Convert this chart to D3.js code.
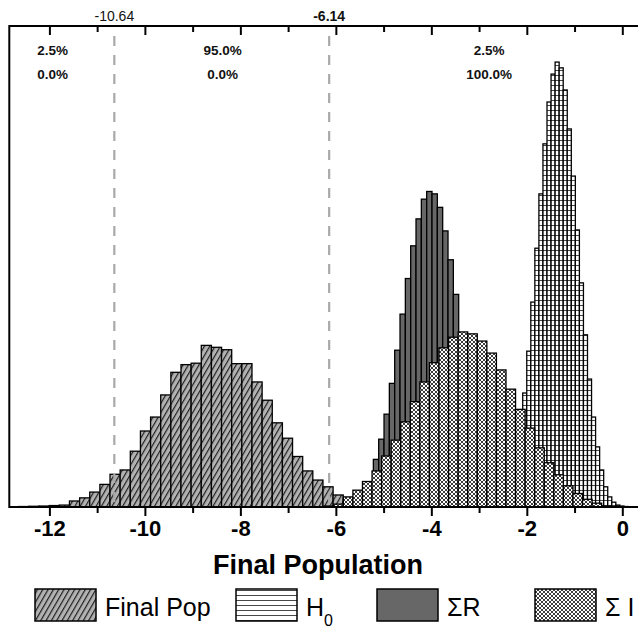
<!DOCTYPE html>
<html><head><meta charset="utf-8">
<script src="https://cdn.jsdelivr.net/npm/d3@7"></script>
<style>body{margin:0;background:#fff} svg{display:block;font-family:Arial,"Liberation Sans",sans-serif}</style>
</head><body>
<svg id="chart" width="638" height="631"></svg>
<script>
// Histogram bins: left edge of the first bin, bin width, then bin heights (% of runs)
const finalPopStart = -12.642, finalPopWidth = 0.2124;
const finalPopValues = [0.1, 0.15, 0.2, 0.3, 0.4, 1.25, 1.9, 3.1, 4.7, 6.8, 7.7, 11.6, 15.8, 18.7, 23.3, 28.0,
  29.6, 29.9, 33.6, 33.2, 32.7, 29.8, 29.8, 26.0, 22.2, 17.5, 14.3, 10.5, 7.5, 5.6, 4.2, 2.5, 1.7, 1.0, 0.6, 0.3, 0.2, 0.1];

const sumRStart = -5.773, sumRWidth = 0.1117;
const sumRValues = [0.4, 0.8, 1.5, 2.7, 5.0, 9.9, 14.1, 19.3, 25.7, 32.6, 40.1, 47.5, 54.3, 59.9, 64.0, 65.6, 65.1,
  62.3, 57.4, 51.4, 44.2, 34.7, 26.4, 20.2, 15.0, 10.8, 7.9, 5.6, 4.0, 2.7, 1.9, 1.2, 0.8, 0.5, 0.3];

const sumIStart = -6.244, sumIWidth = 0.2004;
const sumIValues = [0.2, 0.6, 2.1, 3.5, 5.3, 7.5, 10.6, 13.9, 17.7, 21.9, 26.0, 30.0, 33.1, 35.3, 36.4, 36.0, 34.5,
  32.0, 28.5, 24.5, 20.3, 16.4, 12.3, 9.2, 6.7, 4.4, 2.8, 1.6, 0.8, 0.2];

const h0Start = -2.510, h0Width = 0.0848;
const h0Values = [0.8, 1.7, 3.3, 6.4, 12.9, 23.7, 32.4, 42.6, 53.8, 65.1, 75.5, 84.2, 90.0, 92.5, 91.3, 86.7, 78.6,
  68.8, 57.6, 46.6, 35.8, 26.6, 18.7, 12.5, 7.7, 4.2, 2.1, 1.0, 0.4, 0.2, 0.1];

// 95% interval bounds of the final population
const cutoffs = [-10.64, -6.14];
const cutoffLabels = ["-10.64", "-6.14"];
// share of Final Pop and of H0 falling in each region
const regionTop = ["2.5%", "95.0%", "2.5%"];
const regionBottom = ["0.0%", "0.0%", "100.0%"];
const regionCenters = [-11.93, -8.37, -2.79];

const majorTicks = [-12, -10, -8, -6, -4, -2, 0];
const minorTicks = [-11, -9, -7, -5, -3, -1];
const tickLabels = ["-12", "-10", "-8", "-6", "-4", "-2", "0"];
const xTitle = "Final Population";

const svg = d3.select("#chart");
const W = 638, H = 631;
svg.append("rect").attr("width", W).attr("height", H).attr("fill", "#fff");

const x = d3.scaleLinear().domain([-12.84, 0.4]).range([9.3, 641.4]);
const y = d3.scaleLinear().domain([0, 100]).range([507, 26]);
const plotTop = 26, plotBottom = 507, plotLeft = 9.3, plotRight = 645;

// fill patterns
const defs = svg.append("defs");
const hatch = defs.append("pattern").attr("id", "hatch").attr("patternUnits", "userSpaceOnUse")
  .attr("width", 4.6).attr("height", 4.6).attr("patternTransform", "rotate(30)");
hatch.append("rect").attr("width", 4.6).attr("height", 4.6).attr("fill", "#b2b2b2");
hatch.append("line").attr("x1", 0.6).attr("y1", 0).attr("x2", 0.6).attr("y2", 4.6)
  .attr("stroke", "#1a1a1a").attr("stroke-width", 1.15);

const hlines = defs.append("pattern").attr("id", "hlines").attr("patternUnits", "userSpaceOnUse")
  .attr("width", 8).attr("height", 5);
hlines.append("rect").attr("width", 8).attr("height", 5).attr("fill", "#fff");
hlines.append("line").attr("x1", 0).attr("y1", 0.5).attr("x2", 8).attr("y2", 0.5)
  .attr("stroke", "#333").attr("stroke-width", 0.9);

const cross = defs.append("pattern").attr("id", "cross").attr("patternUnits", "userSpaceOnUse")
  .attr("width", 4).attr("height", 4);
cross.append("rect").attr("width", 4).attr("height", 4).attr("fill", "#fff");
cross.append("path").attr("d", "M0,0L4,4M0,4L4,0").attr("stroke", "#1a1a1a").attr("stroke-width", 0.85);

defs.append("clipPath").attr("id", "plotclip").append("rect")
  .attr("x", plotLeft).attr("y", plotTop).attr("width", plotRight - plotLeft).attr("height", plotBottom - plotTop);

const series = [
  { start: finalPopStart, width: finalPopWidth, values: finalPopValues, fill: "url(#hatch)" },
  { start: sumRStart, width: sumRWidth, values: sumRValues, fill: "#676767" },
  { start: h0Start, width: h0Width, values: h0Values, fill: "url(#hlines)" },
  { start: sumIStart, width: sumIWidth, values: sumIValues, fill: "url(#cross)" }
];

const bars = svg.append("g").attr("clip-path", "url(#plotclip)");
series.forEach(s => {
  bars.append("g").selectAll("rect").data(s.values).join("rect")
    .attr("x", (d, i) => x(s.start + i * s.width))
    .attr("width", (d, i) => x(s.start + (i + 1) * s.width) - x(s.start + i * s.width))
    .attr("y", d => y(d))
    .attr("height", d => y(0) - y(d))
    .attr("fill", s.fill)
    .attr("stroke", "#000")
    .attr("stroke-width", 1.3);
});

// interval cut-off lines
svg.append("g").selectAll("line").data(cutoffs).join("line")
  .attr("x1", d => x(d)).attr("x2", d => x(d))
  .attr("y1", plotTop + 10).attr("y2", plotBottom)
  .attr("stroke", "#a9a9a9").attr("stroke-width", 2.2).attr("stroke-dasharray", "10,9");

svg.append("g").selectAll("text").data(cutoffLabels).join("text")
  .attr("x", (d, i) => x(cutoffs[i])).attr("y", 21)
  .attr("text-anchor", "middle")
  .attr("font-size", 14).attr("font-weight", (d, i) => i === 1 ? "bold" : "normal")
  .attr("fill", "#111").text(d => d);

const regions = svg.append("g").attr("font-size", 13.5).attr("font-weight", "bold").attr("fill", "#111")
  .attr("text-anchor", "middle");
regions.selectAll("text.top").data(regionTop).join("text").attr("class", "top")
  .attr("x", (d, i) => x(regionCenters[i])).attr("y", 55).text(d => d);
regions.selectAll("text.bot").data(regionBottom).join("text").attr("class", "bot")
  .attr("x", (d, i) => x(regionCenters[i])).attr("y", 79).text(d => d);

// frame
svg.append("path")
  .attr("d", `M${plotRight},${plotTop}H${plotLeft}V${plotBottom}H${plotRight}`)
  .attr("fill", "none").attr("stroke", "#000").attr("stroke-width", 2);

// bottom axis
const bottomAxis = d3.axisBottom(x).tickValues(majorTicks).tickSize(9).tickPadding(4)
  .tickFormat((d, i) => tickLabels[i]);
const gb = svg.append("g").attr("transform", `translate(0,${plotBottom})`).call(bottomAxis);
gb.select(".domain").remove();
gb.selectAll(".tick line").attr("stroke", "#000").attr("stroke-width", 2);
gb.selectAll(".tick text").attr("font-size", 22).attr("font-weight", "bold").attr("fill", "#000")
  .attr("font-family", "Arial, 'Liberation Sans', sans-serif");
const gbm = svg.append("g").attr("transform", `translate(0,${plotBottom})`)
  .call(d3.axisBottom(x).tickValues(minorTicks).tickSize(6).tickFormat(""));
gbm.select(".domain").remove();
gbm.selectAll(".tick line").attr("stroke", "#000").attr("stroke-width", 2);

// top axis, ticks pointing into the plot
const gt = svg.append("g").attr("transform", `translate(0,${plotTop})`)
  .call(d3.axisBottom(x).tickValues(majorTicks).tickSize(9).tickFormat(""));
gt.select(".domain").remove();
gt.selectAll(".tick line").attr("stroke", "#000").attr("stroke-width", 2);
const gtm = svg.append("g").attr("transform", `translate(0,${plotTop})`)
  .call(d3.axisBottom(x).tickValues(minorTicks).tickSize(6).tickFormat(""));
gtm.select(".domain").remove();
gtm.selectAll(".tick line").attr("stroke", "#000").attr("stroke-width", 2);

svg.append("text").attr("x", 318).attr("y", 574).attr("text-anchor", "middle")
  .attr("font-size", 27).attr("font-weight", "bold").attr("fill", "#000").text(xTitle);

// legend
const legendItems = [
  { fill: "url(#hatch)", label: "Final Pop", x: 35 },
  { fill: "url(#hlines)", label: "H", sub: "0", x: 236 },
  { fill: "#676767", label: "ΣR", x: 377 },
  { fill: "url(#cross)", label: "Σ I", x: 535 }
];
const lg = svg.append("g");
legendItems.forEach(it => {
  lg.append("rect").attr("x", it.x).attr("y", 589).attr("width", 61).attr("height", 32)
    .attr("fill", it.fill).attr("stroke", "#000").attr("stroke-width", 1.5);
  const t = lg.append("text").attr("x", it.x + 70).attr("y", 616).attr("font-size", 25).attr("fill", "#000");
  t.append("tspan").text(it.label);
  if (it.sub) t.append("tspan").attr("font-size", 16).attr("dy", 10).text(it.sub);
});
</script>
</body></html>
